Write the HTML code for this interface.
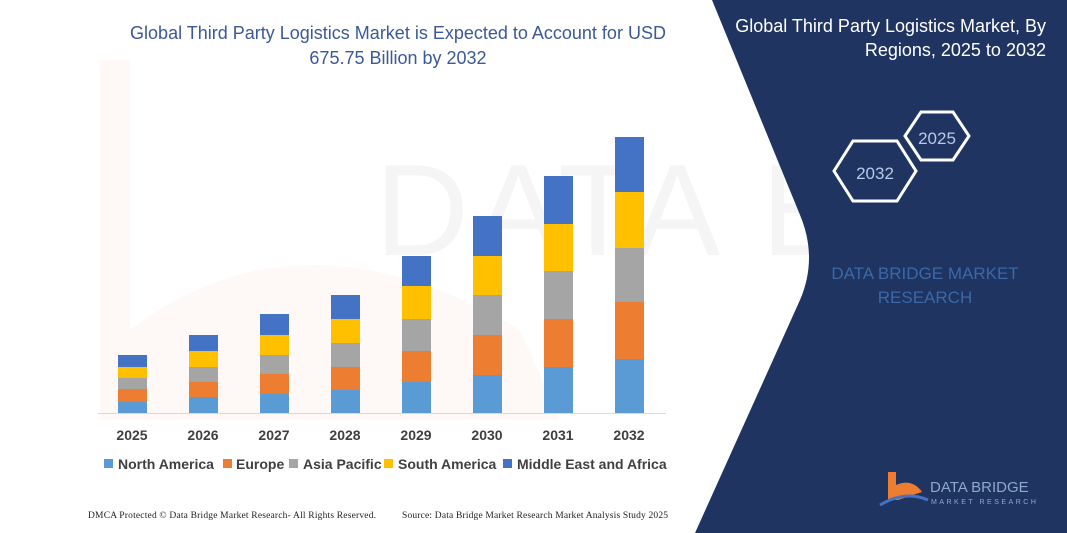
<!DOCTYPE html>
<html><head><meta charset="utf-8"><style>
html,body{margin:0;padding:0;background:#fff}
svg{display:block}
text{font-family:"Liberation Sans",sans-serif}
</style></head><body>
<svg width="1067" height="533" viewBox="0 0 1067 533" xmlns="http://www.w3.org/2000/svg">
<rect width="1067" height="533" fill="#fff"/>
<!-- faint watermark -->
<path d="M100 60 L130 60 L130 330 Q300 200 520 330 L560 420 L100 420 Z" fill="#fdf3ee" opacity="0.5"/>
<text x="375" y="255" font-size="130" fill="#f5f5f5" letter-spacing="6" font-weight="normal">DATA BRIDGE</text>
<!-- right panel -->
<path d="M712 0 L1067 0 L1067 533 L695 533 L800 300 Q818 258 800 215 Z" fill="#1f3461"/>
<text font-size="18" fill="#fff" text-anchor="end"><tspan x="1046" y="32">Global Third Party Logistics Market, By</tspan><tspan x="1046" y="56">Regions, 2025 to 2032</tspan></text>
<polygon points="905,136 921,112 953,112 969,136 953,160 921,160" fill="#1f3461" stroke="#fff" stroke-width="3"/>
<text x="937" y="144" font-size="17" fill="#b8c8e8" text-anchor="middle">2025</text>
<polygon points="834,171 853,141 897,141 916,171 897,201 853,201" fill="#1f3461" stroke="#fff" stroke-width="3"/>
<text x="875" y="179" font-size="17" fill="#b8c8e8" text-anchor="middle">2032</text>
<text font-size="17" fill="#3a68a8" text-anchor="middle"><tspan x="925" y="279">DATA BRIDGE MARKET</tspan><tspan x="925" y="303">RESEARCH</tspan></text>
<!-- logo -->
<path d="M888 472 L896 472 L896 485 Q912 478 922 492 L898 500 L888 500 Z" fill="#ed7d31"/>
<path d="M880 505 Q905 490 928 500" stroke="#4472c4" stroke-width="3" fill="none"/>
<text x="930" y="492" font-size="15" fill="#8fa8d0">DATA BRIDGE</text>
<text x="931" y="504" font-size="7" fill="#8fa8d0" letter-spacing="2.5">MARKET RESEARCH</text>
<!-- left title -->
<text font-size="18" fill="#3b5998" text-anchor="middle"><tspan x="398" y="39">Global Third Party Logistics Market is Expected to Account for USD</tspan><tspan x="398" y="64">675.75 Billion by 2032</tspan></text>
<!-- bars -->
<g>
<rect x="118" y="402" width="29" height="11" fill="#5b9bd5"/><rect x="118" y="389" width="29" height="13" fill="#ed7d31"/><rect x="118" y="378" width="29" height="11" fill="#a5a5a5"/><rect x="118" y="367" width="29" height="11" fill="#ffc000"/><rect x="118" y="355" width="29" height="12" fill="#4472c4"/>
<rect x="189" y="397" width="29" height="16" fill="#5b9bd5"/><rect x="189" y="382" width="29" height="15" fill="#ed7d31"/><rect x="189" y="367" width="29" height="15" fill="#a5a5a5"/><rect x="189" y="351" width="29" height="16" fill="#ffc000"/><rect x="189" y="335" width="29" height="16" fill="#4472c4"/>
<rect x="260" y="394" width="29" height="19" fill="#5b9bd5"/><rect x="260" y="374" width="29" height="20" fill="#ed7d31"/><rect x="260" y="355" width="29" height="19" fill="#a5a5a5"/><rect x="260" y="335" width="29" height="20" fill="#ffc000"/><rect x="260" y="314" width="29" height="21" fill="#4472c4"/>
<rect x="331" y="390" width="29" height="23" fill="#5b9bd5"/><rect x="331" y="367" width="29" height="23" fill="#ed7d31"/><rect x="331" y="343" width="29" height="24" fill="#a5a5a5"/><rect x="331" y="319" width="29" height="24" fill="#ffc000"/><rect x="331" y="295" width="29" height="24" fill="#4472c4"/>
<rect x="402" y="382" width="29" height="31" fill="#5b9bd5"/><rect x="402" y="351" width="29" height="31" fill="#ed7d31"/><rect x="402" y="319" width="29" height="32" fill="#a5a5a5"/><rect x="402" y="286" width="29" height="33" fill="#ffc000"/><rect x="402" y="256" width="29" height="30" fill="#4472c4"/>
<rect x="473" y="375" width="29" height="38" fill="#5b9bd5"/><rect x="473" y="335" width="29" height="40" fill="#ed7d31"/><rect x="473" y="295" width="29" height="40" fill="#a5a5a5"/><rect x="473" y="256" width="29" height="39" fill="#ffc000"/><rect x="473" y="216" width="29" height="40" fill="#4472c4"/>
<rect x="544" y="367" width="29" height="46" fill="#5b9bd5"/><rect x="544" y="319" width="29" height="48" fill="#ed7d31"/><rect x="544" y="271" width="29" height="48" fill="#a5a5a5"/><rect x="544" y="224" width="29" height="47" fill="#ffc000"/><rect x="544" y="176" width="29" height="48" fill="#4472c4"/>
<rect x="615" y="359" width="29" height="54" fill="#5b9bd5"/><rect x="615" y="302" width="29" height="57" fill="#ed7d31"/><rect x="615" y="248" width="29" height="54" fill="#a5a5a5"/><rect x="615" y="192" width="29" height="56" fill="#ffc000"/><rect x="615" y="137" width="29" height="55" fill="#4472c4"/>
</g>
<line x1="98" y1="413.5" x2="666" y2="413.5" stroke="#d9d9d9" stroke-width="1"/>
<g font-size="14" font-weight="bold" fill="#404040" text-anchor="middle">
<text x="132" y="440">2025</text><text x="203" y="440">2026</text><text x="274" y="440">2027</text><text x="345" y="440">2028</text><text x="416" y="440">2029</text><text x="487" y="440">2030</text><text x="558" y="440">2031</text><text x="629" y="440">2032</text>
</g>
<g font-size="14" font-weight="bold" fill="#404040">
<rect x="104" y="459" width="9" height="9" fill="#5b9bd5"/><text x="118" y="469">North America</text>
<rect x="223" y="459" width="9" height="9" fill="#ed7d31"/><text x="236" y="469">Europe</text>
<rect x="289" y="459" width="9" height="9" fill="#a5a5a5"/><text x="303" y="469">Asia Pacific</text>
<rect x="384" y="459" width="9" height="9" fill="#ffc000"/><text x="398" y="469">South America</text>
<rect x="503" y="459" width="9" height="9" fill="#4472c4"/><text x="517" y="469">Middle East and Africa</text>
</g>
<g font-size="9.5" fill="#222">
<text x="88" y="518" textLength="288" style="font-family:'Liberation Serif',serif">DMCA Protected © Data Bridge Market Research- All Rights Reserved.</text>
<text x="402" y="518" textLength="266" style="font-family:'Liberation Serif',serif">Source: Data Bridge Market Research Market Analysis Study 2025</text>
</g>
</svg>
</body></html>
